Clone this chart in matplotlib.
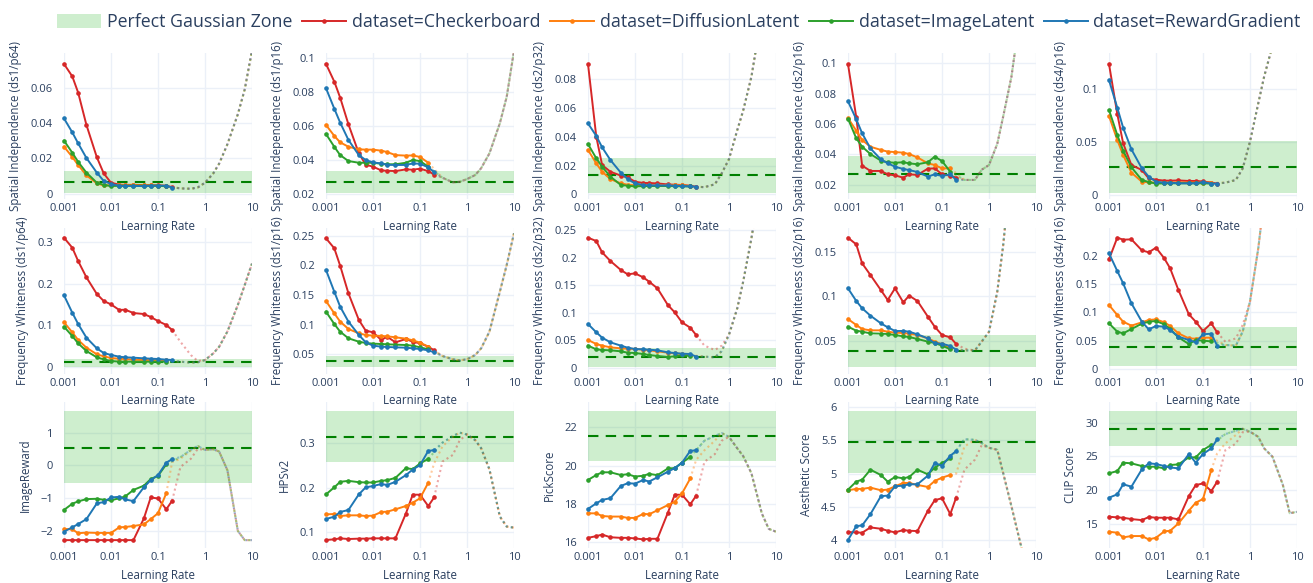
import matplotlib
matplotlib.use('Agg')
import matplotlib.pyplot as plt
from matplotlib.lines import Line2D
from matplotlib.patches import Patch
from matplotlib.ticker import FixedLocator, NullLocator, FuncFormatter

plt.rcParams['font.family'] = ['Open Sans', 'DejaVu Sans']

# learning rates of the sweep (solid part) and of the extrapolated tail (dotted part)
LR = [0.001, 0.0015, 0.002, 0.003, 0.005, 0.007, 0.01, 0.015, 0.02, 0.03, 0.05, 0.07, 0.1, 0.15, 0.2]
LR_TAIL = [0.3, 0.5, 0.7, 1, 1.5, 2, 3, 5, 7, 10]
X_TICKS = [0.001, 0.01, 0.1, 1, 10]
X_LABELS = ['0.001', '0.01', '0.1', '1', '10']

DATASETS = ['Checkerboard', 'DiffusionLatent', 'ImageLatent', 'RewardGradient']
COLORS = {'Checkerboard': '#d62728', 'DiffusionLatent': '#ff7f0e',
          'ImageLatent': '#2ca02c', 'RewardGradient': '#1f77b4'}

# ---- row 1: spatial independence ----
si_ds1_p64 = {
    'Checkerboard': [0.0734, 0.0664, 0.0572, 0.0389, 0.0206, 0.0115, 0.0062, 0.0051, 0.0050, 0.0050, 0.0049, 0.0048, 0.0047, 0.0045, 0.0037],
    'DiffusionLatent': [0.0266, 0.0208, 0.0162, 0.0104, 0.0058, 0.0047, 0.0048, 0.0048, 0.0048, 0.0048, 0.0047, 0.0047, 0.0046, 0.0044],
    'ImageLatent': [0.0300, 0.0232, 0.0180, 0.0119, 0.0062, 0.0050, 0.0043, 0.0045, 0.0045, 0.0045, 0.0045, 0.0045, 0.0045, 0.0042],
    'RewardGradient': [0.0426, 0.0347, 0.0285, 0.0202, 0.0119, 0.0072, 0.0055, 0.0045, 0.0044, 0.0044, 0.0043, 0.0045, 0.0046, 0.0045, 0.0035],
}
si_ds1_p64_tail = [0.0030, 0.0028, 0.0035, 0.0062, 0.0115, 0.017, 0.028, 0.045, 0.059, 0.081]

si_ds1_p16 = {
    'Checkerboard': [0.0963, 0.0859, 0.0765, 0.0608, 0.0437, 0.0371, 0.0359, 0.0337, 0.0335, 0.0333, 0.0343, 0.0341, 0.0347, 0.0333, 0.0312],
    'DiffusionLatent': [0.0604, 0.0540, 0.0502, 0.0476, 0.0461, 0.0459, 0.0459, 0.0453, 0.0445, 0.0427, 0.0424, 0.0425, 0.0416, 0.0382],
    'ImageLatent': [0.0551, 0.0476, 0.0427, 0.0392, 0.0382, 0.0382, 0.0382, 0.0376, 0.0373, 0.0373, 0.0382, 0.0398, 0.0392, 0.0359],
    'RewardGradient': [0.0820, 0.0700, 0.0618, 0.0516, 0.0427, 0.0398, 0.0384, 0.0378, 0.0370, 0.0369, 0.0369, 0.0378, 0.0376, 0.0355, 0.0327],
}
si_ds1_p16_tail = [0.0294, 0.0267, 0.0270, 0.0286, 0.031, 0.035, 0.0437, 0.0614, 0.077, 0.104]

si_ds2_p32 = {
    'Checkerboard': [0.0904, 0.0400, 0.0203, 0.0157, 0.0130, 0.0118, 0.0088, 0.0079, 0.0079, 0.0076, 0.0069, 0.0067, 0.0065, 0.0060, 0.0053],
    'DiffusionLatent': [0.0308, 0.0215, 0.0157, 0.0106, 0.0076, 0.0067, 0.0063, 0.0063, 0.0063, 0.0063, 0.0063, 0.0063, 0.0063, 0.0058],
    'ImageLatent': [0.0349, 0.0250, 0.0192, 0.0123, 0.0065, 0.0060, 0.0055, 0.0058, 0.0058, 0.0058, 0.0058, 0.0057, 0.0056, 0.0055],
    'RewardGradient': [0.0492, 0.0405, 0.0326, 0.0238, 0.0150, 0.0106, 0.0076, 0.0065, 0.0063, 0.0062, 0.0062, 0.0060, 0.0058, 0.0055, 0.0053],
}
si_ds2_p32_tail = [0.0050, 0.0070, 0.0146, 0.0245, 0.0446, 0.058, 0.0816, 0.125, 0.16, 0.21]

si_ds2_p16 = {
    'Checkerboard': [0.0993, 0.0644, 0.0327, 0.0292, 0.0292, 0.0270, 0.0263, 0.0248, 0.0270, 0.0266, 0.0307, 0.0309, 0.0270, 0.0261, 0.0248],
    'DiffusionLatent': [0.0639, 0.0556, 0.0495, 0.0451, 0.0430, 0.0419, 0.0416, 0.0412, 0.0403, 0.0381, 0.0342, 0.0331, 0.0309, 0.0309],
    'ImageLatent': [0.0635, 0.0506, 0.0451, 0.0403, 0.0360, 0.0349, 0.0346, 0.0349, 0.0342, 0.0336, 0.0349, 0.0386, 0.0357, 0.0287],
    'RewardGradient': [0.0749, 0.0631, 0.0539, 0.0440, 0.0368, 0.0342, 0.0320, 0.0305, 0.0298, 0.0285, 0.0255, 0.0270, 0.0259, 0.0270, 0.0233],
}
si_ds2_p16_tail = [0.0233, 0.0233, 0.030, 0.0331, 0.047, 0.0648, 0.091, 0.14, 0.2, 0.28]

si_ds4_p16 = {
    'Checkerboard': [0.1231, 0.0763, 0.0488, 0.0284, 0.0238, 0.0159, 0.0147, 0.0138, 0.0138, 0.0140, 0.0135, 0.0135, 0.0130, 0.0120, 0.0110],
    'DiffusionLatent': [0.0744, 0.0519, 0.0378, 0.0213, 0.0128, 0.0122, 0.0120, 0.0120, 0.0120, 0.0120, 0.0120, 0.0120, 0.0120, 0.0120],
    'ImageLatent': [0.0800, 0.0566, 0.0419, 0.0263, 0.0144, 0.0125, 0.0110, 0.0113, 0.0113, 0.0113, 0.0113, 0.0113, 0.0113, 0.0110],
    'RewardGradient': [0.1080, 0.0822, 0.0634, 0.0431, 0.0253, 0.0175, 0.0128, 0.0119, 0.0119, 0.0113, 0.0113, 0.0113, 0.0125, 0.0110, 0.0110],
}
si_ds4_p16_tail = [0.0119, 0.0144, 0.0253, 0.0503, 0.0863, 0.1113, 0.14, 0.2, 0.26, 0.33]

# ---- row 2: frequency whiteness ----
fw_ds1_p64 = {
    'Checkerboard': [0.3113, 0.2872, 0.2550, 0.2156, 0.1754, 0.1585, 0.1504, 0.1368, 0.1376, 0.1295, 0.1271, 0.1199, 0.1102, 0.1006, 0.0885],
    'DiffusionLatent': [0.1070, 0.0829, 0.0644, 0.0459, 0.0298, 0.0249, 0.0209, 0.0193, 0.0185, 0.0169, 0.0161, 0.0160, 0.0155, 0.0150],
    'ImageLatent': [0.0965, 0.0740, 0.0563, 0.0378, 0.0225, 0.0177, 0.0137, 0.0121, 0.0121, 0.0120, 0.0120, 0.0120, 0.0120, 0.0120],
    'RewardGradient': [0.1722, 0.1303, 0.1030, 0.0700, 0.0442, 0.0330, 0.0282, 0.0241, 0.0225, 0.0217, 0.0201, 0.0193, 0.0185, 0.0169, 0.0161],
}
fw_ds1_p64_tail = [0.012, 0.0097, 0.0105, 0.016, 0.032, 0.048, 0.085, 0.149, 0.197, 0.249]

fw_ds1_p16 = {
    'Checkerboard': [0.2455, 0.2287, 0.1994, 0.1528, 0.1079, 0.0899, 0.0871, 0.0742, 0.0798, 0.0702, 0.0758, 0.0713, 0.0685, 0.0629, 0.0567],
    'DiffusionLatent': [0.1399, 0.1191, 0.1051, 0.0927, 0.0854, 0.0826, 0.0815, 0.0810, 0.0803, 0.0787, 0.0764, 0.0736, 0.0697, 0.0629],
    'ImageLatent': [0.1219, 0.1011, 0.0882, 0.0770, 0.0713, 0.0691, 0.0680, 0.0674, 0.0669, 0.0663, 0.0657, 0.0646, 0.0618, 0.0584],
    'RewardGradient': [0.1921, 0.1556, 0.1303, 0.1051, 0.0826, 0.0702, 0.0646, 0.0629, 0.0624, 0.0618, 0.0612, 0.0601, 0.0590, 0.0567, 0.0534],
}
fw_ds1_p16_tail = [0.0472, 0.0416, 0.0399, 0.0416, 0.0489, 0.0601, 0.0882, 0.1556, 0.2006, 0.254]

fw_ds2_p32 = {
    'Checkerboard': [0.2361, 0.2300, 0.2094, 0.1937, 0.1774, 0.1695, 0.1713, 0.1640, 0.1562, 0.1441, 0.1138, 0.1005, 0.0823, 0.0726, 0.0593],
    'DiffusionLatent': [0.0502, 0.0430, 0.0400, 0.0369, 0.0351, 0.0345, 0.0339, 0.0327, 0.0315, 0.0297, 0.0272, 0.0260, 0.0248, 0.0230],
    'ImageLatent': [0.0400, 0.0333, 0.0321, 0.0315, 0.0297, 0.0272, 0.0266, 0.0248, 0.0230, 0.0212, 0.0194, 0.0206, 0.0224, 0.0212],
    'RewardGradient': [0.0793, 0.0642, 0.0545, 0.0460, 0.0400, 0.0363, 0.0339, 0.0333, 0.0327, 0.0315, 0.0278, 0.0266, 0.0254, 0.0248, 0.0200],
}
fw_ds2_p32_tail = [0.020, 0.0188, 0.030, 0.060, 0.108, 0.156, 0.235, 0.35, 0.45, 0.55]

fw_ds2_p16 = {
    'Checkerboard': [0.1657, 0.1582, 0.1369, 0.1238, 0.1069, 0.0957, 0.1088, 0.0931, 0.1006, 0.0946, 0.0770, 0.0657, 0.0564, 0.0537, 0.0463],
    'DiffusionLatent': [0.0743, 0.0676, 0.0631, 0.0616, 0.0616, 0.0601, 0.0590, 0.0586, 0.0579, 0.0564, 0.0526, 0.0489, 0.0459, 0.0421],
    'ImageLatent': [0.0657, 0.0612, 0.0601, 0.0582, 0.0579, 0.0575, 0.0564, 0.0549, 0.0541, 0.0519, 0.0489, 0.0474, 0.0444, 0.0403],
    'RewardGradient': [0.1088, 0.0946, 0.0864, 0.0781, 0.0695, 0.0650, 0.0609, 0.0609, 0.0601, 0.0571, 0.0526, 0.0470, 0.0466, 0.0440, 0.0399],
}
fw_ds2_p16_tail = [0.039, 0.039, 0.049, 0.060, 0.105, 0.157, 0.25, 0.35, 0.45, 0.55]

fw_ds4_p16 = {
    'Checkerboard': [0.1935, 0.2318, 0.2282, 0.2288, 0.2094, 0.2059, 0.2141, 0.1953, 0.1776, 0.1394, 0.0965, 0.0835, 0.0671, 0.0806, 0.0647],
    'DiffusionLatent': [0.1129, 0.0953, 0.0835, 0.0765, 0.0824, 0.0865, 0.0876, 0.0824, 0.0759, 0.0629, 0.0541, 0.0535, 0.0553, 0.0553],
    'ImageLatent': [0.0806, 0.0659, 0.0629, 0.0706, 0.0800, 0.0835, 0.0847, 0.0788, 0.0706, 0.0559, 0.0441, 0.0512, 0.0500, 0.0488],
    'RewardGradient': [0.2041, 0.1729, 0.1512, 0.1159, 0.0835, 0.0700, 0.0759, 0.0747, 0.0688, 0.0571, 0.0512, 0.0471, 0.0612, 0.0624, 0.0412],
}
fw_ds4_p16_tail = [0.0424, 0.0412, 0.066, 0.119, 0.213, 0.30, 0.45, 0.6, 0.7, 0.8]

# ---- row 3: reward metrics ----
image_reward = {
    'Checkerboard': [-2.28, -2.28, -2.28, -2.28, -2.28, -2.28, -2.28, -2.28, -2.28, -2.28, -1.62, -0.98, -1.01, -1.34, -1.08],
    'DiffusionLatent': [-1.94, -1.95, -2.07, -2.05, -2.06, -2.06, -2.06, -1.89, -1.88, -1.85, -1.80, -1.64, -1.46, -0.85],
    'ImageLatent': [-1.36, -1.17, -1.10, -1.03, -1.02, -1.05, -1.07, -1.00, -0.95, -0.75, -0.62, -0.42, -0.32, 0.03],
    'RewardGradient': [-2.02, -1.89, -1.79, -1.64, -1.16, -1.12, -0.98, -0.96, -1.04, -1.09, -0.67, -0.45, -0.30, 0.08, 0.19],
}
image_reward_tail = [0.25, 0.47, 0.59, 0.47, 0.49, 0.42, -0.15, -2.0, -2.28, -2.28]

hpsv2 = {
    'Checkerboard': [0.0828, 0.0843, 0.0865, 0.0850, 0.0858, 0.0858, 0.0865, 0.0865, 0.0865, 0.0865, 0.1420, 0.1846, 0.1846, 0.1590, 0.1786],
    'DiffusionLatent': [0.1404, 0.1412, 0.1367, 0.1382, 0.1382, 0.1367, 0.1375, 0.1457, 0.1464, 0.1517, 0.1592, 0.1667, 0.1764, 0.2116],
    'ImageLatent': [0.1854, 0.2011, 0.2135, 0.2157, 0.2127, 0.2120, 0.2120, 0.2157, 0.2172, 0.2224, 0.2442, 0.2420, 0.2547, 0.2652],
    'RewardGradient': [0.1300, 0.1352, 0.1457, 0.1502, 0.1854, 0.2011, 0.2041, 0.2086, 0.2064, 0.2135, 0.2285, 0.2412, 0.2509, 0.2831, 0.2846],
}
hpsv2_tail = [0.3015, 0.3164, 0.324, 0.320, 0.307, 0.289, 0.2415, 0.1355, 0.113, 0.1105]

pick_score = {
    'Checkerboard': [16.23, 16.32, 16.40, 16.26, 16.23, 16.23, 16.20, 16.15, 16.18, 16.18, 17.54, 18.48, 18.48, 17.98, 18.43],
    'DiffusionLatent': [17.51, 17.51, 17.37, 17.34, 17.34, 17.27, 17.27, 17.48, 17.46, 17.67, 17.94, 18.11, 18.55, 19.33],
    'ImageLatent': [19.25, 19.51, 19.65, 19.65, 19.51, 19.55, 19.43, 19.47, 19.57, 19.50, 19.85, 19.87, 20.15, 20.46],
    'RewardGradient': [17.74, 18.03, 18.21, 18.30, 18.94, 19.08, 19.06, 19.25, 19.17, 19.39, 19.68, 19.87, 20.15, 20.77, 20.80],
}
pick_score_tail = [21.3, 21.55, 21.7, 21.5, 20.9, 20.5, 19.6, 17.5, 16.7, 16.55]

aesthetic = {
    'Checkerboard': [4.12, 4.115, 4.11, 4.19, 4.17, 4.14, 4.115, 4.15, 4.14, 4.135, 4.44, 4.60, 4.63, 4.39, 4.64],
    'DiffusionLatent': [4.75, 4.77, 4.77, 4.79, 4.75, 4.76, 4.81, 4.86, 4.86, 4.83, 4.80, 4.89, 4.94, 4.98],
    'ImageLatent': [4.76, 4.88, 4.91, 5.06, 4.98, 4.88, 4.95, 4.93, 4.95, 5.06, 4.99, 5.09, 5.16, 5.23],
    'RewardGradient': [4.00, 4.21, 4.22, 4.39, 4.66, 4.67, 4.81, 4.82, 4.84, 4.84, 4.97, 5.16, 5.12, 5.27, 5.34],
}
aesthetic_tail = [5.52, 5.51, 5.46, 5.39, 5.36, 5.01, 4.51, 3.86, 3.4, 3.0]

clip_score = {
    'Checkerboard': [16.08, 15.98, 15.93, 15.73, 15.58, 16.03, 15.93, 15.93, 15.93, 15.68, 19.14, 20.76, 21.01, 19.87, 21.26],
    'DiffusionLatent': [13.86, 13.71, 13.02, 13.22, 13.22, 12.72, 12.97, 13.91, 14.00, 15.09, 16.97, 18.16, 18.70, 23.00],
    'ImageLatent': [22.50, 22.84, 24.08, 23.98, 23.58, 23.48, 23.48, 23.23, 23.73, 23.83, 24.87, 24.87, 25.96, 26.70],
    'RewardGradient': [18.90, 19.39, 20.88, 20.53, 23.09, 23.98, 23.88, 23.58, 23.38, 23.23, 25.36, 24.08, 25.36, 26.20, 27.53],
}
clip_score_tail = [28.32, 28.8, 29.1, 28.67, 27.9, 26.2, 24.97, 20.8, 16.6, 16.8]

# dataset-specific deviations from the shared dotted tail
tail_fix = {
    'fw_ds1_p64': {'Checkerboard': {0.3: 0.060, 0.5: 0.028, 0.7: 0.0137}},
    'fw_ds2_p32': {'Checkerboard': {0.3: 0.040, 0.5: 0.032, 0.7: 0.040}},
    'fw_ds2_p16': {'Checkerboard': {0.3: 0.041}},
    'fw_ds4_p16': {'Checkerboard': {0.3: 0.048, 0.5: 0.054, 0.7: 0.078}},
    'image_reward': {'Checkerboard': {0.3: -0.05, 0.5: 0.20, 0.7: 0.50},
                     'DiffusionLatent': {0.2: 0.10, 0.3: 0.20, 0.5: 0.45}},
    'hpsv2': {'Checkerboard': {0.3: 0.259, 0.5: 0.274, 0.7: 0.307},
              'DiffusionLatent': {0.2: 0.255, 0.3: 0.293, 0.5: 0.315}},
    'pick_score': {'Checkerboard': {0.3: 20.2, 0.5: 20.6, 0.7: 21.3},
                   'DiffusionLatent': {0.2: 20.3, 0.3: 20.8, 0.5: 21.3}},
    'aesthetic': {'Checkerboard': {0.3: 5.06, 0.5: 5.21, 0.7: 5.43},
                  'DiffusionLatent': {0.2: 5.0, 0.3: 5.41}},
    'clip_score': {'Checkerboard': {0.3: 25.96, 0.5: 26.9, 0.7: 28.6},
                   'DiffusionLatent': {0.2: 25.46, 0.3: 26.94, 0.5: 28.17}},
}

# perfect gaussian zone (low, high) and target value per panel
zones = {
    'si_ds1_p64': (0.0004, 0.0128, 0.0066), 'si_ds1_p16': (0.0204, 0.0333, 0.0271),
    'si_ds2_p32': (0.0009, 0.0254, 0.0134), 'si_ds2_p16': (0.0148, 0.0392, 0.0272),
    'si_ds4_p16': (0.0022, 0.0509, 0.0269), 'fw_ds1_p64': (0.0, 0.0177, 0.0105),
    'fw_ds1_p16': (0.0292, 0.0472, 0.0388), 'fw_ds2_p32': (0.0006, 0.0363, 0.020),
    'fw_ds2_p16': (0.0208, 0.0564, 0.0388), 'fw_ds4_p16': (0.0053, 0.0735, 0.0394),
    'image_reward': (-0.53, 1.66, 0.54), 'hpsv2': (0.2588, 0.3727, 0.315),
    'pick_score': (20.25, 22.85, 21.56), 'aesthetic': (5.005, 5.945, 5.47),
    'clip_score': (26.55, 31.7, 29.1),
}

# key, y title, data, tail, y range, y ticks
panels = [
    ('si_ds1_p64', 'Spatial Independence (ds1/p64)', si_ds1_p64, si_ds1_p64_tail, (-0.003, 0.0796), [0, 0.02, 0.04, 0.06]),
    ('si_ds1_p16', 'Spatial Independence (ds1/p16)', si_ds1_p16, si_ds1_p16_tail, (0.0169, 0.1027), [0.02, 0.04, 0.06, 0.08, 0.1]),
    ('si_ds2_p32', 'Spatial Independence (ds2/p32)', si_ds2_p32, si_ds2_p32_tail, (-0.0032, 0.098), [0, 0.02, 0.04, 0.06, 0.08]),
    ('si_ds2_p16', 'Spatial Independence (ds2/p16)', si_ds2_p16, si_ds2_p16_tail, (0.0108, 0.1066), [0.02, 0.04, 0.06, 0.08, 0.1]),
    ('si_ds4_p16', 'Spatial Independence (ds4/p16)', si_ds4_p16, si_ds4_p16_tail, (-0.0034, 0.1334), [0, 0.05, 0.1]),
    ('fw_ds1_p64', 'Frequency Whiteness (ds1/p64)', fw_ds1_p64, fw_ds1_p64_tail, (-0.0165, 0.336), [0, 0.1, 0.2, 0.3]),
    ('fw_ds1_p16', 'Frequency Whiteness (ds1/p16)', fw_ds1_p16, fw_ds1_p16_tail, (0.0177, 0.2637), [0.05, 0.1, 0.15, 0.2, 0.25]),
    ('fw_ds2_p32', 'Frequency Whiteness (ds2/p32)', fw_ds2_p32, fw_ds2_p32_tail, (-0.0106, 0.2546), [0, 0.05, 0.1, 0.15, 0.2, 0.25]),
    ('fw_ds2_p16', 'Frequency Whiteness (ds2/p16)', fw_ds2_p16, fw_ds2_p16_tail, (0.0131, 0.1772), [0.05, 0.1, 0.15]),
    ('fw_ds4_p16', 'Frequency Whiteness (ds4/p16)', fw_ds4_p16, fw_ds4_p16_tail, (-0.0079, 0.2497), [0, 0.05, 0.1, 0.15, 0.2]),
    ('image_reward', 'ImageReward', image_reward, image_reward_tail, (-2.52, 1.93), [-2, -1, 0, 1]),
    ('hpsv2', 'HPSv2', hpsv2, hpsv2_tail, (0.0648, 0.3929), [0.1, 0.2, 0.3]),
    ('pick_score', 'PickScore', pick_score, pick_score_tail, (15.70, 23.32), [16, 18, 20, 22]),
    ('aesthetic', 'Aesthetic Score', aesthetic, aesthetic_tail, (3.88, 6.08), [4, 4.5, 5, 5.5, 6]),
    ('clip_score', 'CLIP Score', clip_score, clip_score_tail, (11.45, 33.06), [15, 20, 25, 30]),
]

TEXT = '#2a3f5f'
GRID = '#EBF0F8'
ZONE = (0.20, 0.72, 0.20)

W, H = 1313, 583
fig = plt.figure(figsize=(W / 100, H / 100), dpi=100)
col_left = [64, 326, 588, 848, 1109]
row_top = [53, 227.5, 402]
ax_w, ax_h = 188, 146

fmt = FuncFormatter(lambda v, p: ('%g' % v).replace('-', '\u2212'))

for i, (key, ytitle, data, tail, ylim, yticks) in enumerate(panels):
    r, c = divmod(i, 5)
    ax = fig.add_axes([col_left[c] / W, 1 - (row_top[r] + ax_h) / H, ax_w / W, ax_h / H])
    ax.set_facecolor('none')
    ax.set_zorder(3 - r)  # upper row's x title sits over the next row
    ax.set_xscale('log')
    ax.set_xlim(0.001, 10)
    ax.set_ylim(*ylim)

    lo, hi, target = zones[key]
    ax.axhspan(lo, hi, color=ZONE, alpha=0.24, lw=0, zorder=1)
    ax.axhline(target, color='green', lw=1.5, ls=(0, (5, 3.5)), zorder=2)

    fixes = tail_fix.get(key, {})
    for ds in DATASETS:
        ys = data[ds]
        xs = LR[:len(ys)]
        # dotted extrapolation starting at the last measured point
        pts = dict(zip(LR_TAIL, tail))
        pts.update(fixes.get(ds, {}))
        tx = [xs[-1]] + sorted(pts)
        ty = [ys[-1]] + [pts[k] for k in sorted(pts)]
        ax.plot(tx, ty, color=COLORS[ds], lw=1.5, ls=(0, (1, 1.5)), alpha=0.4, zorder=3)
        ax.plot(xs, ys, color=COLORS[ds], lw=1.4, marker='o', ms=2.3, zorder=4, clip_on=False)

    ax.xaxis.set_major_locator(FixedLocator(X_TICKS))
    ax.xaxis.set_minor_locator(NullLocator())
    ax.set_xticklabels(X_LABELS)
    ax.yaxis.set_major_locator(FixedLocator(yticks))
    ax.yaxis.set_major_formatter(fmt)
    ax.grid(True, color=GRID, lw=1, zorder=0)
    ax.set_axisbelow(True)
    for s in ax.spines.values():
        s.set_visible(False)
    ax.tick_params(axis='both', length=0, labelsize=8, colors=TEXT)
    ax.tick_params(axis='y', pad=8)
    ax.tick_params(axis='x', pad=3)
    ax.set_xlabel('Learning Rate', fontsize=8.3, color=TEXT, labelpad=4)
    ax.set_ylabel(ytitle, fontsize=8.3, color=TEXT, labelpad=6)

handles = [Patch(facecolor=ZONE, alpha=0.24, lw=0, label='Perfect Gaussian Zone')]
for ds in DATASETS:
    handles.append(Line2D([], [], color=COLORS[ds], lw=1.4, marker='o', ms=2.3, label='dataset=' + ds))
fig.legend(handles=handles, loc='upper center', bbox_to_anchor=(0.517, 1.005), ncol=5,
           frameon=False, fontsize=12.8, handlelength=2.5, handleheight=0.8,
           handletextpad=0.3, columnspacing=0.55, labelcolor=TEXT)

fig.savefig('out.png', dpi=100)
